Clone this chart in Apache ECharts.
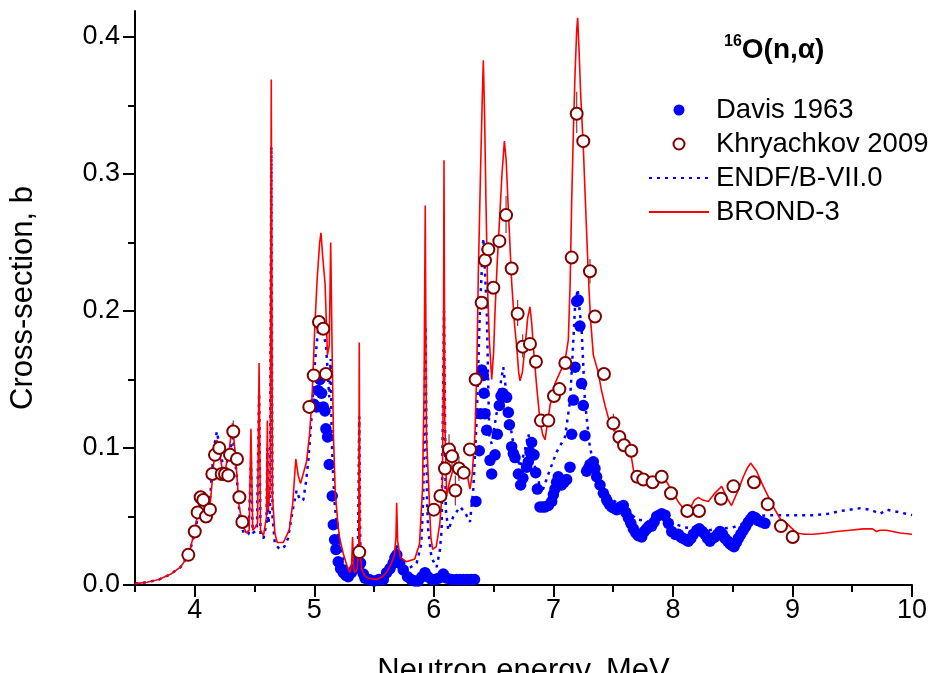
<!DOCTYPE html>
<html>
<head>
<meta charset="utf-8">
<title>16O(n,a)</title>
<script src="https://cdn.jsdelivr.net/npm/echarts@6.0.0/dist/echarts.min.js"></script>
<style>
  html, body { margin: 0; padding: 0; background: #fff; }
  #chart { width: 930px; height: 673px; }
</style>
</head>
<body>
<div id="chart"></div>
<script>
// ---- data: [energy MeV, cross-section b] ----
const brondCurve = [
  [3.50,0.001],[3.60,0.002],[3.70,0.004],[3.80,0.008],[3.88,0.013],[3.95,0.022],[4.00,0.040],
  [4.03,0.055],[4.05,0.066],[4.07,0.064],[4.10,0.054],[4.13,0.060],[4.16,0.090],[4.185,0.106],
  [4.21,0.095],[4.235,0.082],[4.26,0.086],[4.29,0.100],[4.315,0.118],[4.34,0.095],[4.37,0.058],
  [4.40,0.044],[4.43,0.038],[4.455,0.040],[4.47,0.114],[4.485,0.040],[4.505,0.042],[4.525,0.045],
  [4.538,0.162],[4.55,0.040],[4.575,0.036],[4.60,0.050],[4.607,0.120],[4.615,0.055],[4.63,0.070],
  [4.64,0.369],[4.65,0.065],[4.67,0.038],[4.69,0.031],[4.74,0.031],[4.79,0.040],[4.82,0.060],
  [4.845,0.092],[4.865,0.080],[4.885,0.074],[4.91,0.082],[4.935,0.090],[4.96,0.110],[4.98,0.135],
  [5.005,0.190],[5.025,0.225],[5.045,0.250],[5.056,0.257],[5.07,0.240],[5.09,0.220],[5.11,0.168],
  [5.125,0.175],[5.137,0.250],[5.15,0.165],[5.16,0.110],[5.175,0.068],[5.20,0.042],[5.215,0.033],
  [5.245,0.022],[5.27,0.015],[5.298,0.009],[5.312,0.015],[5.32,0.035],[5.33,0.012],[5.34,0.009],
  [5.36,0.012],[5.372,0.030],[5.376,0.177],[5.382,0.028],[5.395,0.012],[5.42,0.007],[5.45,0.005],
  [5.52,0.004],[5.57,0.006],[5.61,0.010],[5.64,0.015],[5.67,0.022],[5.683,0.035],[5.689,0.060],
  [5.697,0.032],[5.72,0.020],[5.77,0.017],[5.84,0.019],[5.88,0.030],[5.905,0.070],[5.918,0.140],
  [5.928,0.277],[5.938,0.110],[5.953,0.080],[5.975,0.035],[5.99,0.026],[6.02,0.028],[6.05,0.045],
  [6.07,0.068],[6.08,0.150],[6.085,0.310],[6.092,0.120],[6.107,0.065],[6.13,0.075],[6.163,0.085],
  [6.19,0.088],[6.22,0.086],[6.25,0.082],[6.28,0.080],[6.302,0.070],[6.32,0.080],[6.344,0.110],
  [6.36,0.160],[6.372,0.227],[6.39,0.300],[6.405,0.355],[6.414,0.383],[6.425,0.340],[6.436,0.280],
  [6.45,0.215],[6.464,0.179],[6.484,0.150],[6.50,0.170],[6.512,0.200],[6.53,0.235],[6.548,0.264],
  [6.57,0.300],[6.59,0.324],[6.605,0.310],[6.623,0.274],[6.651,0.221],[6.675,0.190],[6.693,0.174],
  [6.71,0.155],[6.721,0.149],[6.74,0.155],[6.763,0.174],[6.785,0.195],[6.804,0.203],[6.82,0.190],
  [6.832,0.174],[6.86,0.145],[6.888,0.120],[6.91,0.110],[6.93,0.106],[6.95,0.118],[6.972,0.131],
  [7.013,0.147],[7.069,0.158],[7.10,0.165],[7.125,0.179],[7.14,0.220],[7.153,0.280],[7.167,0.330],
  [7.181,0.373],[7.195,0.405],[7.203,0.414],[7.215,0.390],[7.228,0.359],[7.25,0.320],[7.27,0.275],
  [7.292,0.227],[7.31,0.195],[7.334,0.168],[7.376,0.155],[7.40,0.143],[7.432,0.131],[7.46,0.122],
  [7.488,0.115],[7.52,0.112],[7.557,0.108],[7.59,0.105],[7.627,0.101],[7.655,0.092],[7.683,0.077],
  [7.725,0.075],[7.77,0.074],[7.808,0.077],[7.87,0.080],[7.906,0.082],[7.95,0.075],[8.003,0.067],
  [8.05,0.060],[8.087,0.056],[8.143,0.056],[8.18,0.062],[8.213,0.064],[8.25,0.062],[8.296,0.061],
  [8.35,0.067],[8.408,0.072],[8.45,0.064],[8.49,0.058],[8.506,0.058],[8.55,0.070],[8.589,0.079],
  [8.62,0.085],[8.65,0.089],[8.70,0.083],[8.756,0.072],[8.84,0.057],[8.90,0.048],[8.952,0.045],
  [9.035,0.038],[9.10,0.037],[9.175,0.037],[9.28,0.038],[9.37,0.039],[9.48,0.040],[9.593,0.041],
  [9.67,0.041],[9.704,0.039],[9.73,0.040],[9.788,0.040],[9.90,0.038],[10.0,0.037]
];

const endfCurve = [
  [3.50,0.001],[3.60,0.002],[3.70,0.004],[3.80,0.008],[3.88,0.013],[3.95,0.022],[4.00,0.038],
  [4.03,0.052],[4.05,0.062],[4.07,0.062],[4.10,0.052],[4.13,0.065],[4.16,0.100],[4.185,0.112],
  [4.21,0.100],[4.24,0.085],[4.27,0.090],[4.30,0.100],[4.32,0.108],[4.35,0.080],[4.38,0.045],
  [4.41,0.038],[4.45,0.037],[4.47,0.090],[4.485,0.038],[4.52,0.040],[4.538,0.140],[4.55,0.037],
  [4.575,0.034],[4.60,0.045],[4.607,0.100],[4.615,0.045],[4.63,0.055],[4.64,0.320],[4.65,0.050],
  [4.67,0.030],[4.713,0.026],[4.75,0.028],[4.78,0.034],[4.82,0.055],[4.852,0.069],[4.88,0.062],
  [4.908,0.062],[4.93,0.075],[4.95,0.091],[4.975,0.120],[5.005,0.162],[5.03,0.185],[5.047,0.193],
  [5.07,0.185],[5.097,0.176],[5.125,0.137],[5.137,0.165],[5.145,0.110],[5.153,0.088],[5.17,0.060],
  [5.187,0.044],[5.215,0.028],[5.243,0.018],[5.27,0.013],[5.298,0.011],[5.32,0.014],[5.34,0.016],
  [5.365,0.025],[5.376,0.123],[5.385,0.020],[5.41,0.009],[5.45,0.004],[5.493,0.002],[5.55,0.004],
  [5.605,0.006],[5.65,0.012],[5.675,0.018],[5.689,0.030],[5.70,0.018],[5.772,0.011],[5.856,0.016],
  [5.895,0.030],[5.912,0.065],[5.931,0.189],[5.943,0.060],[5.953,0.040],[5.98,0.020],[6.023,0.013],
  [6.05,0.025],[6.065,0.040],[6.085,0.200],[6.10,0.055],[6.121,0.040],[6.163,0.050],[6.219,0.057],
  [6.26,0.053],[6.302,0.046],[6.33,0.070],[6.358,0.120],[6.386,0.203],[6.414,0.253],[6.442,0.203],
  [6.464,0.108],[6.484,0.103],[6.526,0.126],[6.555,0.145],[6.581,0.159],[6.60,0.145],[6.623,0.126],
  [6.665,0.103],[6.721,0.086],[6.76,0.098],[6.79,0.110],[6.82,0.100],[6.846,0.086],[6.902,0.067],
  [6.958,0.081],[7.027,0.097],[7.097,0.108],[7.139,0.134],[7.165,0.175],[7.181,0.203],[7.203,0.216],
  [7.22,0.200],[7.236,0.187],[7.264,0.134],[7.306,0.100],[7.35,0.085],[7.42,0.070],[7.50,0.062],
  [7.60,0.055],[7.70,0.048],[7.80,0.046],[7.90,0.048],[8.00,0.045],[8.10,0.042],[8.20,0.041],
  [8.30,0.040],[8.40,0.041],[8.50,0.042],[8.60,0.045],[8.70,0.050],[8.80,0.051],[9.00,0.051],
  [9.175,0.051],[9.30,0.052],[9.40,0.054],[9.565,0.056],[9.65,0.055],[9.733,0.052],[9.788,0.055],
  [9.90,0.053],[10.0,0.051]
];

const davisPoints = [
  [4.995,0.132],[5.02,0.130],[5.033,0.142],[5.047,0.150],[5.061,0.140],[5.075,0.130],[5.089,0.127],
  [5.097,0.114],[5.111,0.108],[5.125,0.088],[5.15,0.065],[5.159,0.044],[5.17,0.033],[5.181,0.026],
  [5.20,0.017],[5.22,0.012],[5.243,0.009],[5.265,0.007],[5.284,0.006],[5.31,0.009],[5.34,0.012],
  [5.365,0.018],[5.387,0.016],[5.41,0.008],[5.424,0.005],[5.46,0.004],[5.50,0.003],[5.54,0.004],
  [5.577,0.004],[5.605,0.009],[5.633,0.012],[5.66,0.016],[5.675,0.020],[5.69,0.022],[5.715,0.016],
  [5.744,0.011],[5.78,0.006],[5.81,0.004],[5.842,0.003],[5.87,0.003],[5.90,0.006],[5.926,0.009],
  [5.95,0.006],[5.981,0.004],[6.01,0.004],[6.04,0.005],[6.079,0.008],[6.11,0.005],[6.15,0.004],
  [6.19,0.004],[6.22,0.004],[6.25,0.004],[6.28,0.004],[6.31,0.004],[6.34,0.004],
  [6.352,0.061],[6.38,0.098],[6.39,0.125],[6.40,0.157],[6.414,0.153],[6.42,0.140],[6.428,0.125],
  [6.442,0.113],[6.47,0.091],[6.484,0.081],[6.512,0.095],[6.531,0.110],[6.548,0.131],[6.562,0.138],
  [6.576,0.140],[6.595,0.138],[6.609,0.137],[6.623,0.126],[6.632,0.117],[6.651,0.101],[6.665,0.096],
  [6.679,0.093],[6.707,0.081],[6.726,0.073],[6.745,0.078],[6.776,0.086],[6.79,0.090],[6.804,0.097],
  [6.818,0.104],[6.838,0.095],[6.852,0.082],[6.866,0.070],[6.888,0.057],[6.91,0.057],[6.93,0.057],
  [6.958,0.058],[6.986,0.061],[7.00,0.066],[7.013,0.070],[7.027,0.075],[7.041,0.079],[7.069,0.073],
  [7.09,0.075],[7.111,0.077],[7.139,0.086],[7.153,0.110],[7.167,0.135],[7.181,0.159],[7.195,0.207],
  [7.208,0.208],[7.222,0.189],[7.236,0.147],[7.25,0.131],[7.264,0.109],[7.278,0.083],[7.292,0.085],
  [7.306,0.088],[7.334,0.090],[7.348,0.085],[7.362,0.079],[7.39,0.073],[7.418,0.067],[7.446,0.062],
  [7.467,0.059],[7.488,0.057],[7.51,0.056],[7.53,0.055],[7.56,0.057],[7.585,0.058],[7.606,0.053],
  [7.627,0.049],[7.648,0.045],[7.669,0.041],[7.69,0.038],[7.71,0.036],[7.739,0.035],[7.76,0.039],
  [7.78,0.041],[7.80,0.043],[7.822,0.043],[7.843,0.046],[7.864,0.050],[7.885,0.051],[7.906,0.052],
  [7.934,0.051],[7.962,0.045],[7.99,0.039],[8.02,0.037],[8.045,0.037],[8.065,0.035],[8.087,0.034],
  [8.108,0.033],[8.129,0.032],[8.15,0.034],[8.171,0.037],[8.20,0.040],[8.221,0.041],[8.245,0.039],
  [8.268,0.037],[8.29,0.034],[8.31,0.032],[8.33,0.034],[8.352,0.035],[8.375,0.037],[8.394,0.039],
  [8.415,0.037],[8.436,0.034],[8.458,0.032],[8.478,0.030],[8.495,0.029],[8.511,0.028],[8.53,0.031],
  [8.547,0.034],[8.568,0.037],[8.589,0.040],[8.61,0.043],[8.631,0.046],[8.65,0.048],[8.667,0.050],
  [8.69,0.049],[8.714,0.047],[8.74,0.046],[8.77,0.045]
];

const khryPoints = [
  [3.946,0.022],[4.00,0.039],[4.024,0.053],[4.049,0.064],[4.071,0.062],[4.094,0.050],[4.127,0.055],
  [4.147,0.081],[4.169,0.095],[4.205,0.100],[4.225,0.081],[4.253,0.081],[4.28,0.080],[4.295,0.095],
  [4.322,0.112],[4.353,0.092],[4.373,0.064],[4.398,0.046],
  [4.958,0.130],[4.995,0.153],[5.039,0.192],[5.075,0.187],[5.097,0.154],[5.376,0.024],
  [6.00,0.055],[6.055,0.065],[6.093,0.085],[6.127,0.099],[6.152,0.094],[6.18,0.069],[6.21,0.085],
  [6.25,0.082],[6.302,0.099],[6.35,0.150],[6.40,0.206],[6.428,0.237],[6.456,0.245],[6.498,0.217],
  [6.548,0.251],[6.604,0.270],[6.651,0.231],[6.701,0.198],[6.743,0.174],[6.804,0.176],[6.854,0.163],
  [6.896,0.120],[6.958,0.120],[7.005,0.138],[7.05,0.143],[7.10,0.162],[7.153,0.239],[7.195,0.344],
  [7.25,0.324],[7.306,0.229],[7.348,0.196],[7.423,0.154],[7.502,0.118],[7.552,0.108],[7.591,0.102],
  [7.652,0.098],[7.702,0.079],[7.752,0.077],[7.83,0.075],[7.906,0.079],[7.984,0.067],[8.12,0.054],
  [8.218,0.054],[8.402,0.063],[8.506,0.072],[8.678,0.075],[8.793,0.059],[8.904,0.043],[9.002,0.035]
];

// [energy, low, high] for the visible Khryachkov error bars
const khryErrors = [
  [4.322,0.106,0.120],[6.127,0.090,0.110],[6.152,0.084,0.104],[6.18,0.058,0.080],[6.21,0.076,0.094],
  [6.604,0.257,0.284],[6.701,0.189,0.208],[6.743,0.166,0.183],[7.195,0.330,0.360],[7.306,0.220,0.238],
  [7.502,0.112,0.125]
];

const xMajorTicks = [4, 5, 6, 7, 8, 9, 10];
const xMinorTicks = [3.5, 4.5, 5.5, 6.5, 7.5, 8.5, 9.5];
const yMajorTicks = [0, 0.1, 0.2, 0.3, 0.4];
const yMinorTicks = [0.05, 0.15, 0.25, 0.35];

const FONT = "'Liberation Sans', Arial, sans-serif";
const DARK_RED = '#800000';

const chart = echarts.init(document.getElementById('chart'), null, { renderer: 'canvas' });

const baseX = { type: 'value', min: 3.5, max: 10, gridIndex: 0, position: 'bottom', splitLine: { show: false } };
const baseY = { type: 'value', min: 0, max: 0.419, gridIndex: 0, position: 'left', splitLine: { show: false } };
const tickLine = { color: '#000', width: 2 };

const option = {
  animation: false,
  backgroundColor: '#fff',
  textStyle: { fontFamily: FONT },
  grid: { left: 135, right: 18, top: 11, bottom: 88, containLabel: false, outerBoundsMode: 'none' },
  title: {
    text: '{s|16}{m|O(n,α)}',
    left: 719,
    top: 29,
    textStyle: {
      rich: {
        s: { fontFamily: FONT, fontSize: 16, fontWeight: 'bold', color: '#000', verticalAlign: 'top', lineHeight: 32 },
        m: { fontFamily: FONT, fontSize: 28, fontWeight: 'bold', color: '#000', lineHeight: 32 }
      }
    }
  },
  legend: {
    orient: 'vertical',
    left: 643,
    top: 88,
    itemWidth: 60,
    itemHeight: 11,
    itemGap: 0,
    textStyle: { fontFamily: FONT, fontSize: 27.5, color: '#000', lineHeight: 34, padding: [0, 0, 0, 2] },
    data: [
      { name: 'Davis 1963' },
      { name: 'Khryachkov 2009' },
      { name: 'ENDF/B-VII.0', itemStyle: { opacity: 0 } },
      { name: 'BROND-3', itemStyle: { opacity: 0 } }
    ]
  },
  xAxis: [
    Object.assign({}, baseX, {
      name: 'Neutron energy, MeV',
      nameLocation: 'middle',
      nameGap: 71,
      nameTextStyle: { fontFamily: FONT, fontSize: 31, color: '#000' },
      axisLine: { show: true, onZero: false, lineStyle: tickLine },
      axisTick: { show: true, inside: false, length: 12, customValues: xMajorTicks, lineStyle: tickLine },
      axisLabel: { show: true, customValues: xMajorTicks, margin: 12, fontFamily: FONT, fontSize: 27, color: '#000' }
    }),
    Object.assign({}, baseX, {
      axisLine: { show: false, onZero: false },
      axisTick: { show: true, inside: false, length: 7, customValues: xMinorTicks, lineStyle: tickLine },
      axisLabel: { show: false }
    })
  ],
  yAxis: [
    Object.assign({}, baseY, {
      name: 'Cross-section, b',
      nameLocation: 'middle',
      nameGap: 96,
      nameTextStyle: { fontFamily: FONT, fontSize: 31, color: '#000' },
      axisLine: { show: true, onZero: false, lineStyle: tickLine },
      axisTick: { show: true, inside: false, length: 12, customValues: yMajorTicks, lineStyle: tickLine },
      axisLabel: {
        show: true, customValues: yMajorTicks, margin: 15, fontFamily: FONT, fontSize: 27, color: '#000',
        formatter: (v) => v.toFixed(1)
      }
    }),
    Object.assign({}, baseY, {
      axisLine: { show: false, onZero: false },
      axisTick: { show: true, inside: false, length: 7, customValues: yMinorTicks, lineStyle: tickLine },
      axisLabel: { show: false }
    })
  ],
  series: [
    {
      name: 'ENDF/B-VII.0',
      type: 'line',
      data: endfCurve,
      symbol: 'none',
      lineStyle: { color: '#0000ff', width: 2.5, type: [3, 5] },
      itemStyle: { color: '#0000ff' },
      z: 2
    },
    {
      name: 'Davis 1963',
      type: 'scatter',
      data: davisPoints,
      symbol: 'circle',
      symbolSize: 11.5,
      itemStyle: { color: '#0000ff', opacity: 1 },
      z: 3
    },
    {
      name: 'BROND-3',
      type: 'line',
      data: brondCurve,
      symbol: 'none',
      lineStyle: { color: '#ff0000', width: 1.6 },
      itemStyle: { color: '#ff0000' },
      z: 4
    },
    {
      name: 'khryErr',
      type: 'custom',
      data: khryErrors,
      renderItem: (params, api) => {
        const top = api.coord([api.value(0), api.value(2)]);
        const bottom = api.coord([api.value(0), api.value(1)]);
        return {
          type: 'line',
          shape: { x1: top[0], y1: top[1], x2: bottom[0], y2: bottom[1] },
          style: { stroke: '#8a3a3a', lineWidth: 1.2 }
        };
      },
      z: 5
    },
    {
      name: 'Khryachkov 2009',
      type: 'scatter',
      data: khryPoints,
      symbol: 'emptyCircle',
      symbolSize: 12,
      itemStyle: { color: DARK_RED, borderWidth: 2.3, opacity: 1 },
      z: 6
    }
  ]
};

chart.setOption(option);
</script>
</body>
</html>
